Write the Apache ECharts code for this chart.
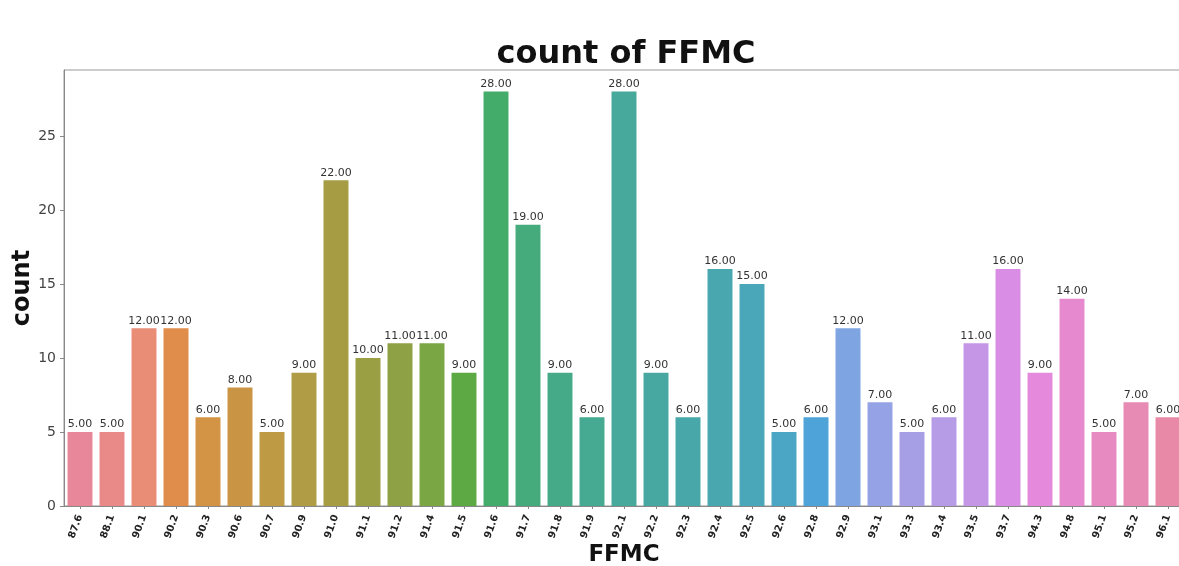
<!DOCTYPE html>
<html>
<head>
<meta charset="utf-8">
<script src="https://cdn.jsdelivr.net/npm/echarts@6/dist/echarts.min.js"></script>
<style>
html,body{margin:0;padding:0;background:#fff;overflow:hidden;}
#chart{width:1179px;height:566px;}
</style>
</head>
<body>
<div id="chart"></div>
<script>
const categories = ['87.6','88.1','90.1','90.2','90.3','90.6','90.7','90.9','91.0','91.1','91.2','91.4','91.5','91.6','91.7','91.8','91.9','92.1','92.2','92.3','92.4','92.5','92.6','92.8','92.9','93.1','93.3','93.4','93.5','93.7','94.3','94.8','95.1','95.2','96.1'];
const counts = [5,5,12,12,6,8,5,9,22,10,11,11,9,28,19,9,6,28,9,6,16,15,5,6,12,7,5,6,11,16,9,14,5,7,6];
const yTicks = [0,5,10,15,20,25];
const barColors = ['#e8879a','#e98a88','#e98d76','#e08c4a','#d39445','#c99544','#bf9a44','#b09c44','#a59c44','#9b9f44','#8ea144','#7ba644','#5daa44','#44ac6a','#45ab7c','#45aa88','#46a991','#47a99b','#47a8a2','#48a8a9','#49a7b0','#4aa6b9','#4ba5c4','#4ea4d8','#7ea5e2','#96a2e6','#a69fe6','#b69be6','#c595e6','#d98de4','#e589dc','#e689cf','#e78ac2','#e78ab4','#e88aa7'];

const chart = echarts.init(document.getElementById('chart'));
const font = 'DejaVu Sans';
chart.setOption({
  animation: false,
  title: {
    text: 'count of FFMC',
    left: 621, top: 34, textAlign: 'center',
    textStyle: {fontFamily: font, fontWeight: 'bold', fontSize: 32, color: '#111'}
  },
  grid: {left: 64, top: 70, width: 1120, height: 436, outerBoundsMode: 'none', containLabel: false, show: true, borderColor: '#999', borderWidth: 1},
  xAxis: {
    type: 'category',
    data: categories,
    name: 'FFMC',
    nameLocation: 'middle',
    nameGap: 38,
    nameMoveOverlap: false,
    nameTextStyle: {fontFamily: font, fontWeight: 'bold', fontSize: 23, color: '#111'},
    axisLine: {lineStyle: {color: '#888'}},
    axisTick: {show: true, alignWithLabel: true, length: 3, lineStyle: {color: '#888'}},
    axisLabel: {rotate: 70, interval: 0, fontFamily: font, fontWeight: 'bold', fontSize: 10, color: '#222', margin: 9}
  },
  yAxis: {
    type: 'value',
    min: 0, max: 29.45, interval: 5,
    name: 'count',
    nameLocation: 'middle',
    nameGap: 29,
    nameMoveOverlap: false,
    nameTextStyle: {fontFamily: font, fontWeight: 'bold', fontSize: 24, color: '#111'},
    axisLine: {show: true, lineStyle: {color: '#888'}},
    axisTick: {show: true, length: 4, lineStyle: {color: '#888'}},
    splitLine: {show: false},
    axisLabel: {
      fontFamily: font, fontSize: 14, color: '#444', margin: 8,
      showMaxLabel: false,
      formatter: v => yTicks.includes(v) ? String(v) : ''
    }
  },
  series: [{
    type: 'bar',
    data: counts.map((v, i) => ({value: v, itemStyle: {color: barColors[i]}})),
    barWidth: '78%',
    label: {
      show: true, position: 'top', distance: 2,
      fontFamily: font, fontSize: 11, color: '#333',
      formatter: p => p.value.toFixed(2)
    }
  }]
});
</script>
</body>
</html>
